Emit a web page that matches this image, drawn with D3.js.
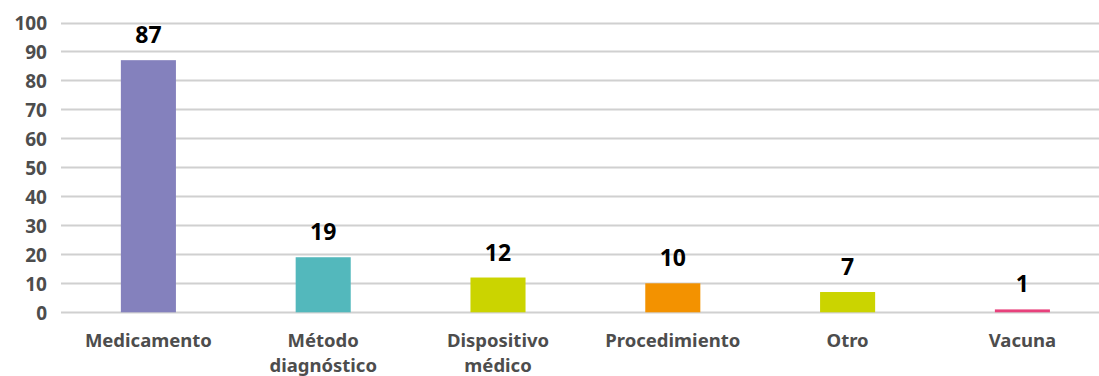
<!DOCTYPE html>
<html>
<head>
<meta charset="utf-8">
<script src="https://cdn.jsdelivr.net/npm/d3@7"></script>
<style>
  body { margin: 0; background: #fff; }
  svg { display: block; font-family: "Noto Sans", "Open Sans", sans-serif; }
</style>
</head>
<body>
<div id="chart"></div>
<script>
var categories = ["Medicamento", "Método\ndiagnóstico", "Dispositivo\nmédico", "Procedimiento", "Otro", "Vacuna"];
var values = [87, 19, 12, 10, 7, 1];
var colors = ["#8481bd", "#53b8bc", "#cbd400", "#f39200", "#cbd400", "#e8417c"];
var yTicks = [0, 10, 20, 30, 40, 50, 60, 70, 80, 90, 100];

var width = 1099, height = 376;

var svg = d3.select("#chart").append("svg")
    .attr("width", width)
    .attr("height", height);

var x = d3.scaleBand()
    .domain(categories)
    .range([61, 61 + 6 * 174.8])
    .paddingInner(0.685)
    .paddingOuter(0.3425);

var y = d3.scaleLinear()
    .domain([0, 100])
    .range([312.3, 22.5]);

// gridlines
svg.append("g")
    .selectAll("line")
    .data(yTicks)
    .join("line")
    .attr("x1", 61)
    .attr("x2", width)
    .attr("y1", d => Math.round(y(d)) + 0.5)
    .attr("y2", d => Math.round(y(d)) + 0.5)
    .style("stroke", "#d0d0d0")
    .style("stroke-width", 2);

// y axis labels
var yAxis = svg.append("g")
    .attr("transform", "translate(61,0)")
    .call(d3.axisLeft(y).tickValues(yTicks).tickSize(0).tickPadding(14));
yAxis.select(".domain").remove();
yAxis.selectAll("text")
    .style("font-family", "'Noto Sans', sans-serif")
    .style("font-size", "19px")
    .style("font-weight", "bold")
    .style("fill", "#4d4d4d")
    .attr("dy", "0.36em");

// bars
svg.append("g")
    .selectAll("rect")
    .data(values)
    .join("rect")
    .attr("x", (d, i) => x(categories[i]))
    .attr("width", x.bandwidth())
    .attr("y", d => y(d))
    .attr("height", d => y(0) - y(d))
    .style("fill", (d, i) => colors[i]);

// value labels
svg.append("g")
    .selectAll("text")
    .data(values)
    .join("text")
    .attr("x", (d, i) => x(categories[i]) + x.bandwidth() / 2)
    .attr("y", d => y(d) - 17)
    .attr("text-anchor", "middle")
    .style("font-size", "23px")
    .style("font-weight", "bold")
    .style("fill", "#000")
    .text(d => d);

// category labels, one text per line
var catGroups = svg.append("g")
    .selectAll("g")
    .data(categories)
    .join("g")
    .attr("transform", d => "translate(" + (x(d) + x.bandwidth() / 2) + ",0)");

catGroups.selectAll("text")
    .data(d => d.split("\n"))
    .join("text")
    .attr("x", 0)
    .attr("y", (d, i) => 347 + i * 25)
    .attr("text-anchor", "middle")
    .style("font-size", "18.5px")
    .style("font-weight", "bold")
    .style("fill", "#4d4d4d")
    .text(d => d);
</script>
</body>
</html>
